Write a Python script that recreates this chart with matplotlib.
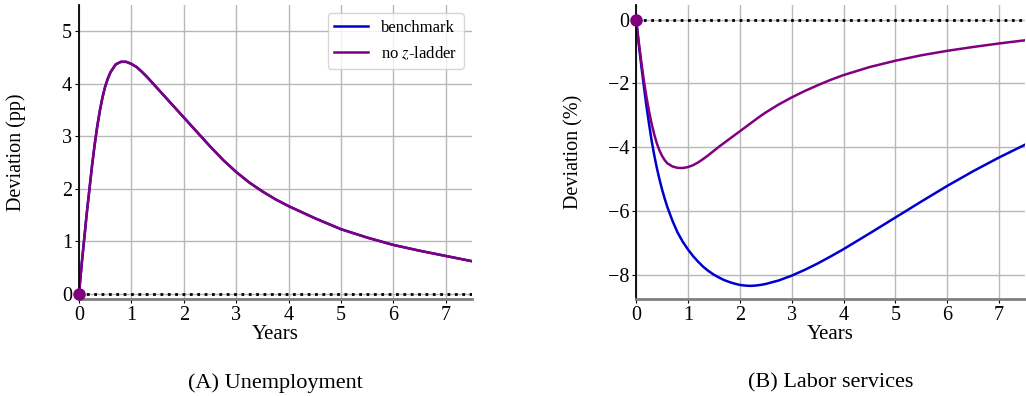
#!/usr/bin/env python

import numpy as np
import matplotlib
matplotlib.use('Agg')
import matplotlib.pyplot as plt

plt.rcParams['font.family'] = ['Liberation Serif', 'DejaVu Serif']
plt.rcParams['mathtext.fontset'] = 'stix'

# time after the shock, in years
years = [0, 0.05, 0.1, 0.15, 0.2, 0.25, 0.3, 0.35, 0.4, 0.45, 0.5, 0.55,
         0.6, 0.7, 0.8, 0.9, 1.0, 1.1, 1.2, 1.3, 1.4, 1.5, 1.6, 1.7, 1.8,
         1.9, 2.0, 2.1, 2.2, 2.3, 2.4, 2.5, 2.75, 3.0, 3.25, 3.5, 3.75,
         4.0, 4.5, 5.0, 5.5, 6.0, 6.5, 7.0, 7.5]

# unemployment deviation (pp); the two models coincide
unemp_bench = [0, 0.55, 1.05, 1.55, 2.0, 2.45, 2.85, 3.2, 3.5, 3.75, 3.95,
               4.1, 4.22, 4.37, 4.42, 4.42, 4.38, 4.32, 4.23, 4.13, 4.02,
               3.91, 3.80, 3.69, 3.58, 3.47, 3.36, 3.25, 3.14, 3.03, 2.92,
               2.81, 2.55, 2.32, 2.12, 1.95, 1.80, 1.67, 1.44, 1.23, 1.07,
               0.93, 0.82, 0.72, 0.62]
unemp_noz = [0, 0.55, 1.05, 1.55, 2.0, 2.45, 2.85, 3.2, 3.5, 3.75, 3.95,
             4.1, 4.22, 4.37, 4.42, 4.42, 4.38, 4.32, 4.23, 4.13, 4.02,
             3.91, 3.80, 3.69, 3.58, 3.47, 3.36, 3.25, 3.14, 3.03, 2.92,
             2.81, 2.55, 2.32, 2.12, 1.95, 1.80, 1.67, 1.44, 1.23, 1.07,
             0.93, 0.82, 0.72, 0.62]

# labor services deviation (%)
labor_bench = [0, -0.75, -1.45, -2.1, -2.72, -3.28, -3.8, -4.25, -4.65,
               -5.0, -5.32, -5.6, -5.86, -6.3, -6.67, -6.96, -7.2, -7.41,
               -7.59, -7.75, -7.88, -7.99, -8.08, -8.16, -8.22, -8.27,
               -8.31, -8.33, -8.34, -8.33, -8.31, -8.28, -8.17, -8.02,
               -7.84, -7.64, -7.42, -7.19, -6.7, -6.2, -5.7, -5.21, -4.75,
               -4.32, -3.92]
labor_noz = [0, -0.7, -1.33, -1.92, -2.43, -2.88, -3.27, -3.6, -3.88,
             -4.1, -4.27, -4.4, -4.5, -4.6, -4.645, -4.65, -4.62, -4.56,
             -4.47, -4.36, -4.24, -4.11, -3.98, -3.86, -3.74, -3.62, -3.5,
             -3.38, -3.26, -3.14, -3.02, -2.91, -2.66, -2.44, -2.24, -2.06,
             -1.89, -1.74, -1.49, -1.29, -1.12, -0.98, -0.86, -0.75, -0.65]

labels = ['benchmark', 'no $z$-ladder']
colors = ['mediumblue', 'purple']


def panel(ax, bench, noz, ylabel, ylim, yticks, caption):
    ax.plot(years, bench, color=colors[0], lw=1.8, label=labels[0])
    ax.plot(years, noz, color=colors[1], lw=1.8, label=labels[1])
    ax.axhline(0, color='black', ls=':', lw=2, zorder=1)
    ax.plot([0], [0], 'o', color='purple', ms=8, clip_on=False, zorder=5)
    ax.set_xlim(0, 7.5)
    ax.set_ylim(*ylim)
    ax.set_xticks(range(8))
    ax.set_yticks(yticks)
    ax.grid(True, color='#b8b8b8', lw=1)
    ax.set_axisbelow(True)
    for s in ['top', 'right']:
        ax.spines[s].set_visible(False)
    ax.spines['bottom'].set_color('#808080')
    ax.spines['bottom'].set_linewidth(2)
    ax.spines['left'].set_linewidth(1.3)
    ax.tick_params(labelsize=14.5, length=3, pad=2)
    ax.set_xlabel('Years', fontsize=15, labelpad=0)
    ax.set_ylabel(ylabel, fontsize=14.5)
    ax.yaxis.set_label_coords(-0.135, 0.5)
    ax.text(0.5, -0.285, caption, transform=ax.transAxes, ha='center',
            va='center', fontsize=16)


fig = plt.figure(figsize=(10.26, 3.96), dpi=100)
ax1 = fig.add_axes([0.077, 0.245, 0.383, 0.742])
ax2 = fig.add_axes([0.620, 0.245, 0.379, 0.742])

panel(ax1, unemp_bench, unemp_noz, 'Deviation (pp)', (-0.1, 5.5),
      range(6), '(A) Unemployment')
panel(ax2, labor_bench, labor_noz, 'Deviation (%)', (-8.75, 0.45),
      [-8, -6, -4, -2, 0], '(B) Labor services')

ax1.legend(loc='upper right', fontsize=12, handlelength=2.0,
           edgecolor='#cccccc', borderaxespad=0.5)

fig.savefig('out.png', dpi=100)
